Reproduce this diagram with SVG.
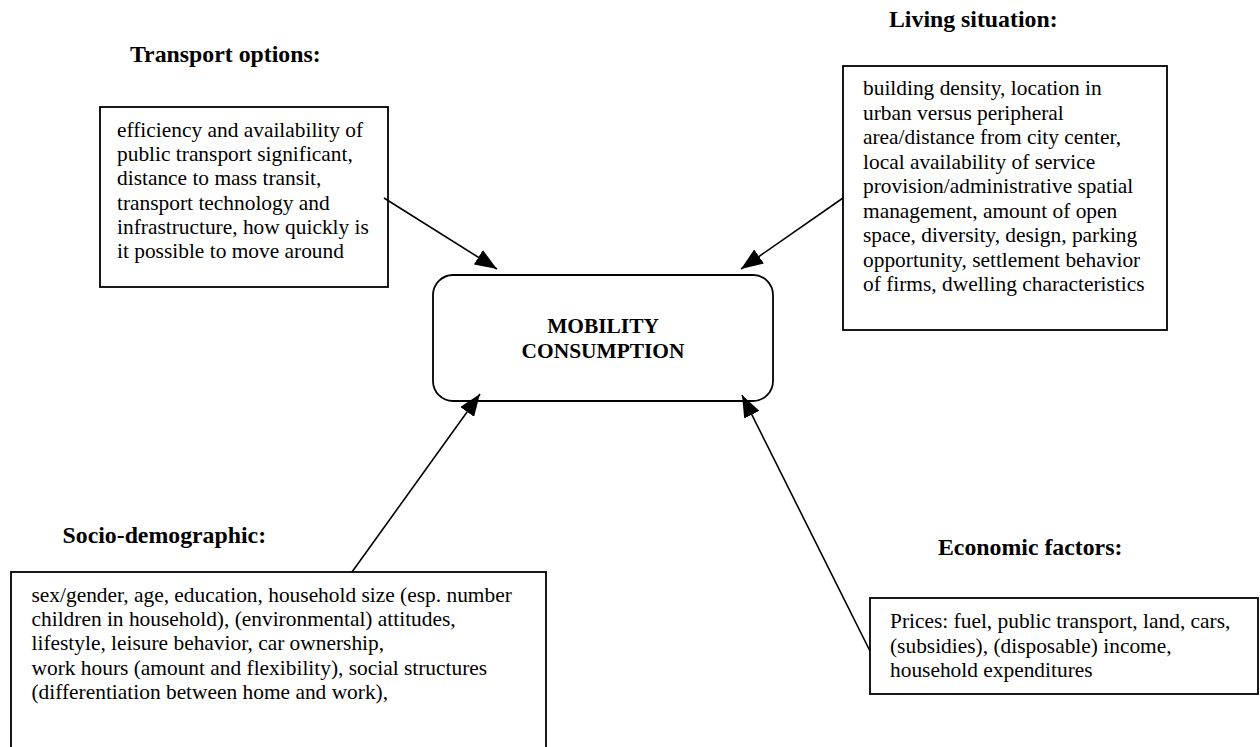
<svg xmlns="http://www.w3.org/2000/svg" width="1260" height="747" viewBox="0 0 1260 747">
<style>
.box{fill:#fff;stroke:#000;stroke-width:1.8}
.t{font-family:"Liberation Serif","Times New Roman",serif;font-size:21.4px;fill:#000}
.h{font-family:"Liberation Serif","Times New Roman",serif;font-size:23.8px;font-weight:bold;fill:#000}
.c{font-family:"Liberation Serif","Times New Roman",serif;font-size:21.4px;font-weight:bold;fill:#000}
.ln{stroke:#000;stroke-width:1.6;fill:none}
</style>
<defs>
<marker id="ah" markerWidth="22" markerHeight="17" refX="22" refY="8.5" orient="auto" markerUnits="userSpaceOnUse" viewBox="0 0 22 17">
<path d="M0,0 L22,8.5 L0,17 Z" fill="#000"/>
</marker>
</defs>
<rect width="1260" height="747" fill="#fff"/>

<g id="transport">
<text class="h" x="130" y="62">Transport options:</text>
<rect class="box" x="100" y="107" width="288" height="180"/>
<text class="t" x="117" y="137">efficiency and availability of</text>
<text class="t" x="117" y="161">public transport significant,</text>
<text class="t" x="117" y="185">distance to mass transit,</text>
<text class="t" x="117" y="209.5">transport technology and</text>
<text class="t" x="117" y="233.5">infrastructure, how quickly is</text>
<text class="t" x="117" y="258">it possible to move around</text>
</g>

<g id="living">
<text class="h" x="889" y="27">Living situation:</text>
<rect class="box" x="843" y="66" width="324" height="264"/>
<text class="t" x="863" y="95">building density, location in</text>
<text class="t" x="863" y="119.5">urban versus peripheral</text>
<text class="t" x="863" y="144">area/distance from city center,</text>
<text class="t" x="863" y="168.5">local availability of service</text>
<text class="t" x="863" y="193">provision/administrative spatial</text>
<text class="t" x="863" y="217.5">management, amount of open</text>
<text class="t" x="863" y="242">space, diversity, design, parking</text>
<text class="t" x="863" y="266.5">opportunity, settlement behavior</text>
<text class="t" x="863" y="291">of firms, dwelling characteristics</text>
</g>

<g id="mobility">
<rect class="box" x="433" y="275" width="340" height="126" rx="20" ry="20"/>
<text class="c" x="603" y="333" text-anchor="middle">MOBILITY</text>
<text class="c" x="603" y="358" text-anchor="middle">CONSUMPTION</text>
</g>

<g id="socio">
<text class="h" x="62.5" y="543">Socio-demographic:</text>
<rect class="box" x="11" y="572" width="535" height="190"/>
<text class="t" x="31.5" y="602">sex/gender, age, education, household size (esp. number</text>
<text class="t" x="31.5" y="626">children in household), (environmental) attitudes,</text>
<text class="t" x="31.5" y="650">lifestyle, leisure behavior, car ownership,</text>
<text class="t" x="31.5" y="674.5">work hours (amount and flexibility), social structures</text>
<text class="t" x="31.5" y="698.5">(differentiation between home and work),</text>
</g>

<g id="economic">
<text class="h" x="938" y="555">Economic factors:</text>
<rect class="box" x="870" y="598" width="388" height="96"/>
<text class="t" x="890" y="628">Prices: fuel, public transport, land, cars,</text>
<text class="t" x="890" y="652.5">(subsidies), (disposable) income,</text>
<text class="t" x="890" y="676.5">household expenditures</text>
</g>

<g id="connectors">
<line class="ln" x1="384" y1="198" x2="497" y2="269" marker-end="url(#ah)"/>
<line class="ln" x1="843" y1="198" x2="741" y2="269" marker-end="url(#ah)"/>
<line class="ln" x1="352" y1="572" x2="480" y2="394" marker-end="url(#ah)"/>
<line class="ln" x1="870" y1="651" x2="742" y2="395" marker-end="url(#ah)"/>
</g>
</svg>
